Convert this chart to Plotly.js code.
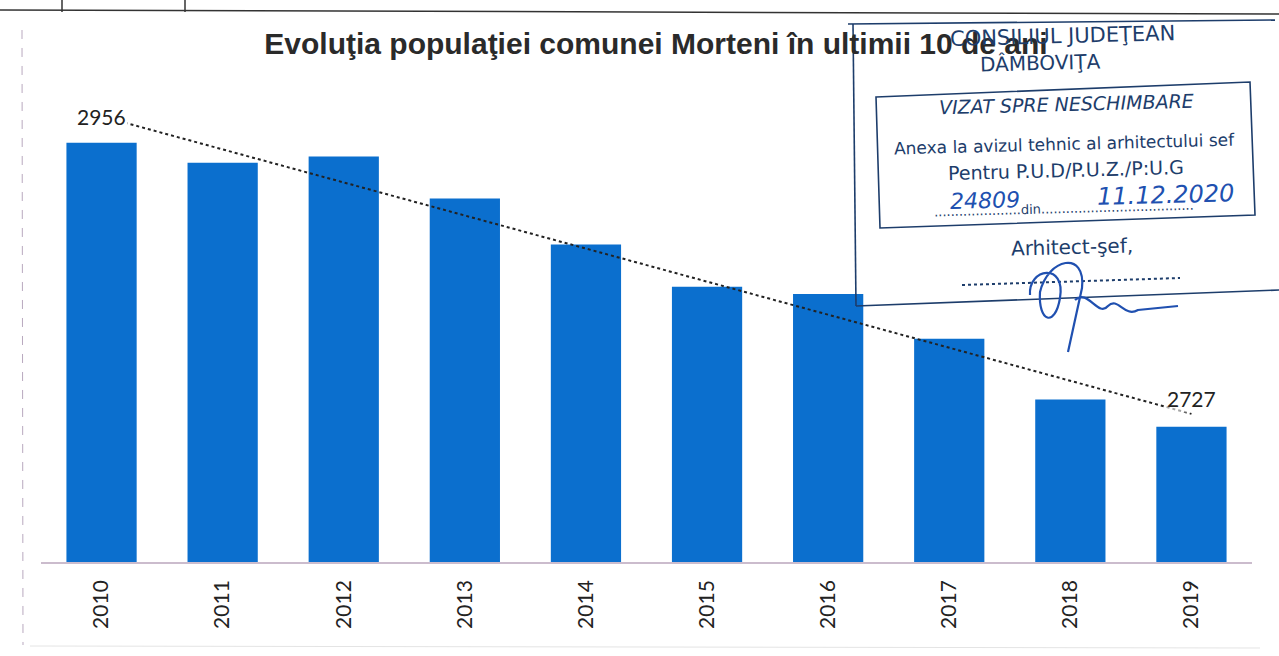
<!DOCTYPE html>
<html>
<head>
<meta charset="utf-8">
<script src="https://cdn.plot.ly/plotly-3.0.1.min.js"></script>
<style>
  body { margin: 0; background: #ffffff; }
  #chart { width: 1279px; height: 656px; }
</style>
</head>
<body>
<div id="chart"></div>
<script>
// Population of Morteni commune
const years = [2010, 2011, 2012, 2013, 2014, 2015, 2016, 2017, 2018, 2019];
const yearLabels = ['2010', '2011', '2012', '2013', '2014', '2015', '2016', '2017', '2018', '2019'];
const population = [2956, 2940, 2945, 2911, 2874, 2840, 2834, 2798, 2749, 2727];

// Stamp text lines (approval stamp overlaid on the scan)
const stampLines = ['CONSILIUL JUDEŢEAN', 'DÂMBOVIŢA'];

// Plot area in pixels, used to place the scan decorations
const plotLeft = 41, plotWidth = 1211, plotBottom = 562, plotHeight = 506;
function px(x) { return (x - plotLeft) / plotWidth; }
function py(y) { return (plotBottom - y) / plotHeight; }

// Excel style linear trendline, fitted to the bars
function linearFit(xs, ys) {
    const n = xs.length;
    const mx = xs.reduce((a, b) => a + b, 0) / n;
    const my = ys.reduce((a, b) => a + b, 0) / n;
    let num = 0, den = 0;
    for (let i = 0; i < n; i++) {
        num += (xs[i] - mx) * (ys[i] - my);
        den += (xs[i] - mx) * (xs[i] - mx);
    }
    const slope = num / den;
    return xs.map(x => my + slope * (x - mx));
}

const trend = linearFit(years, population);
const last = years.length - 1;

const ink = '#1d3d6b';
const pen = '#2050b0';

const bars = {
    x: years,
    y: population,
    type: 'bar',
    width: 0.58,
    marker: { color: '#0b6fce' },
    hoverinfo: 'x+y'
};

const trendLine = {
    x: [years[0], years[last]],
    y: [trend[0], trend[last]],
    type: 'scatter',
    mode: 'lines',
    line: { color: '#222222', width: 2, dash: 'dot' },
    hoverinfo: 'skip'
};

const shapes = [
    // scan borders
    { type: 'line', xref: 'paper', yref: 'paper', x0: px(0), x1: px(1279), y0: py(10), y1: py(14), line: { color: '#333', width: 1.5 } },
    { type: 'line', xref: 'paper', yref: 'paper', x0: px(62), x1: px(62), y0: py(0), y1: py(12), line: { color: '#333', width: 1.5 } },
    { type: 'line', xref: 'paper', yref: 'paper', x0: px(185), x1: px(185), y0: py(0), y1: py(12), line: { color: '#333', width: 1.5 } },
    { type: 'line', xref: 'paper', yref: 'paper', x0: px(22), x1: px(23), y0: py(30), y1: py(645), line: { color: '#b9a9bf', width: 1, dash: 'dash' } },
    { type: 'line', xref: 'paper', yref: 'paper', x0: px(30), x1: px(1260), y0: py(646), y1: py(648), line: { color: '#e4e4e4', width: 1 } },
    // stamp outer frame
    { type: 'line', xref: 'paper', yref: 'paper', x0: px(848), x1: px(1275), y0: py(24), y1: py(20), line: { color: ink, width: 1.6 } },
    { type: 'line', xref: 'paper', yref: 'paper', x0: px(853), x1: px(856), y0: py(24), y1: py(306), line: { color: ink, width: 1.6 } },
    { type: 'line', xref: 'paper', yref: 'paper', x0: px(856), x1: px(1279), y0: py(306), y1: py(290), line: { color: ink, width: 1.6 } },
    // stamp inner frame
    { type: 'path', xref: 'paper', yref: 'paper',
      path: 'M ' + px(876) + ',' + py(97) + ' L ' + px(1250) + ',' + py(82) +
            ' L ' + px(1255) + ',' + py(215) + ' L ' + px(880) + ',' + py(228) + ' Z',
      line: { color: ink, width: 1.6 } },
    // signature dotted line
    { type: 'line', xref: 'paper', yref: 'paper', x0: px(962), x1: px(1180), y0: py(285), y1: py(278), line: { color: ink, width: 2, dash: 'dot' } },
    // signature scribble
    { type: 'path', xref: 'paper', yref: 'paper',
      path: 'M ' + px(1030) + ',' + py(295) +
            ' C ' + px(1028) + ',' + py(268) + ' ' + px(1066) + ',' + py(262) + ' ' + px(1060) + ',' + py(298) +
            ' C ' + px(1055) + ',' + py(328) + ' ' + px(1038) + ',' + py(322) + ' ' + px(1040) + ',' + py(292) +
            ' C ' + px(1048) + ',' + py(258) + ' ' + px(1086) + ',' + py(250) + ' ' + px(1082) + ',' + py(288) +
            ' L ' + px(1068) + ',' + py(352) +
            ' M ' + px(1075) + ',' + py(300) +
            ' C ' + px(1088) + ',' + py(288) + ' ' + px(1098) + ',' + py(318) + ' ' + px(1108) + ',' + py(306) +
            ' C ' + px(1118) + ',' + py(296) + ' ' + px(1124) + ',' + py(318) + ' ' + px(1138) + ',' + py(310) +
            ' L ' + px(1178) + ',' + py(306),
      line: { color: pen, width: 2.2 } }
];

function stampText(text, x, y, size, color) {
    return {
        xref: 'paper', yref: 'paper', x: px(x), y: py(y),
        xanchor: 'center', yanchor: 'middle',
        text: text, showarrow: false, textangle: -1.5,
        font: { family: 'DejaVu Sans, sans-serif', size: size, color: color || ink }
    };
}

const annotations = [
    { x: years[0], y: population[0], xref: 'x', yref: 'y', text: String(population[0]),
      showarrow: false, yanchor: 'bottom', yshift: 12, bgcolor: '#ffffff',
      font: { family: 'Lato, Open Sans, sans-serif', size: 21, color: '#222' } },
    { x: years[last], y: population[last], xref: 'x', yref: 'y', text: String(population[last]),
      showarrow: false, yanchor: 'bottom', yshift: 14, bgcolor: 'rgba(255,255,255,0.6)',
      font: { family: 'Lato, Open Sans, sans-serif', size: 21, color: '#222' } },
    stampText(stampLines[0], 1062, 36, 21),
    stampText(stampLines[1], 1040, 63, 20),
    stampText('<i>VIZAT SPRE NESCHIMBARE</i>', 1066, 104, 19),
    stampText('Anexa la avizul tehnic al arhitectului sef', 1064, 144, 17),
    stampText('Pentru P.U.D/P.U.Z./P:U.G', 1066, 170, 19),
    stampText('.....................din.....................................', 1064, 208, 13),
    stampText('<i>24809</i>', 985, 200, 22, pen),
    stampText('<i>11.12.2020</i>', 1165, 195, 24, pen),
    stampText('Arhitect-şef,', 1072, 247, 20)
];

const layout = {
    width: 1279,
    height: 656,
    margin: { l: plotLeft, r: 1279 - plotLeft - plotWidth, t: plotBottom - plotHeight, b: 656 - plotBottom },
    paper_bgcolor: '#ffffff',
    plot_bgcolor: '#ffffff',
    showlegend: false,
    title: {
        text: 'Evoluţia populaţiei comunei Morteni în ultimii 10 de ani',
        x: 656 / 1279,
        xanchor: 'center',
        y: 1 - 43 / 656,
        yanchor: 'middle',
        font: { family: 'Liberation Sans, Arial, sans-serif', size: 30, color: '#2a2a2a', weight: 'bold' }
    },
    xaxis: {
        type: 'linear',
        range: [2009.5, 2019.5],
        tickvals: years,
        ticktext: yearLabels,
        tickangle: -90,
        ticks: '',
        ticklabelstandoff: 8,
        showgrid: false,
        zeroline: false,
        showline: true,
        linecolor: '#cbbccd',
        linewidth: 1.5,
        tickfont: { family: 'Lato, Open Sans, sans-serif', size: 21, color: '#222' }
    },
    yaxis: {
        range: [2618, 3026],
        showticklabels: false,
        showgrid: false,
        zeroline: false,
        showline: false,
        ticks: ''
    },
    shapes: shapes,
    annotations: annotations
};

Plotly.newPlot('chart', [bars, trendLine], layout, { displayModeBar: false, responsive: false });
</script>
</body>
</html>
